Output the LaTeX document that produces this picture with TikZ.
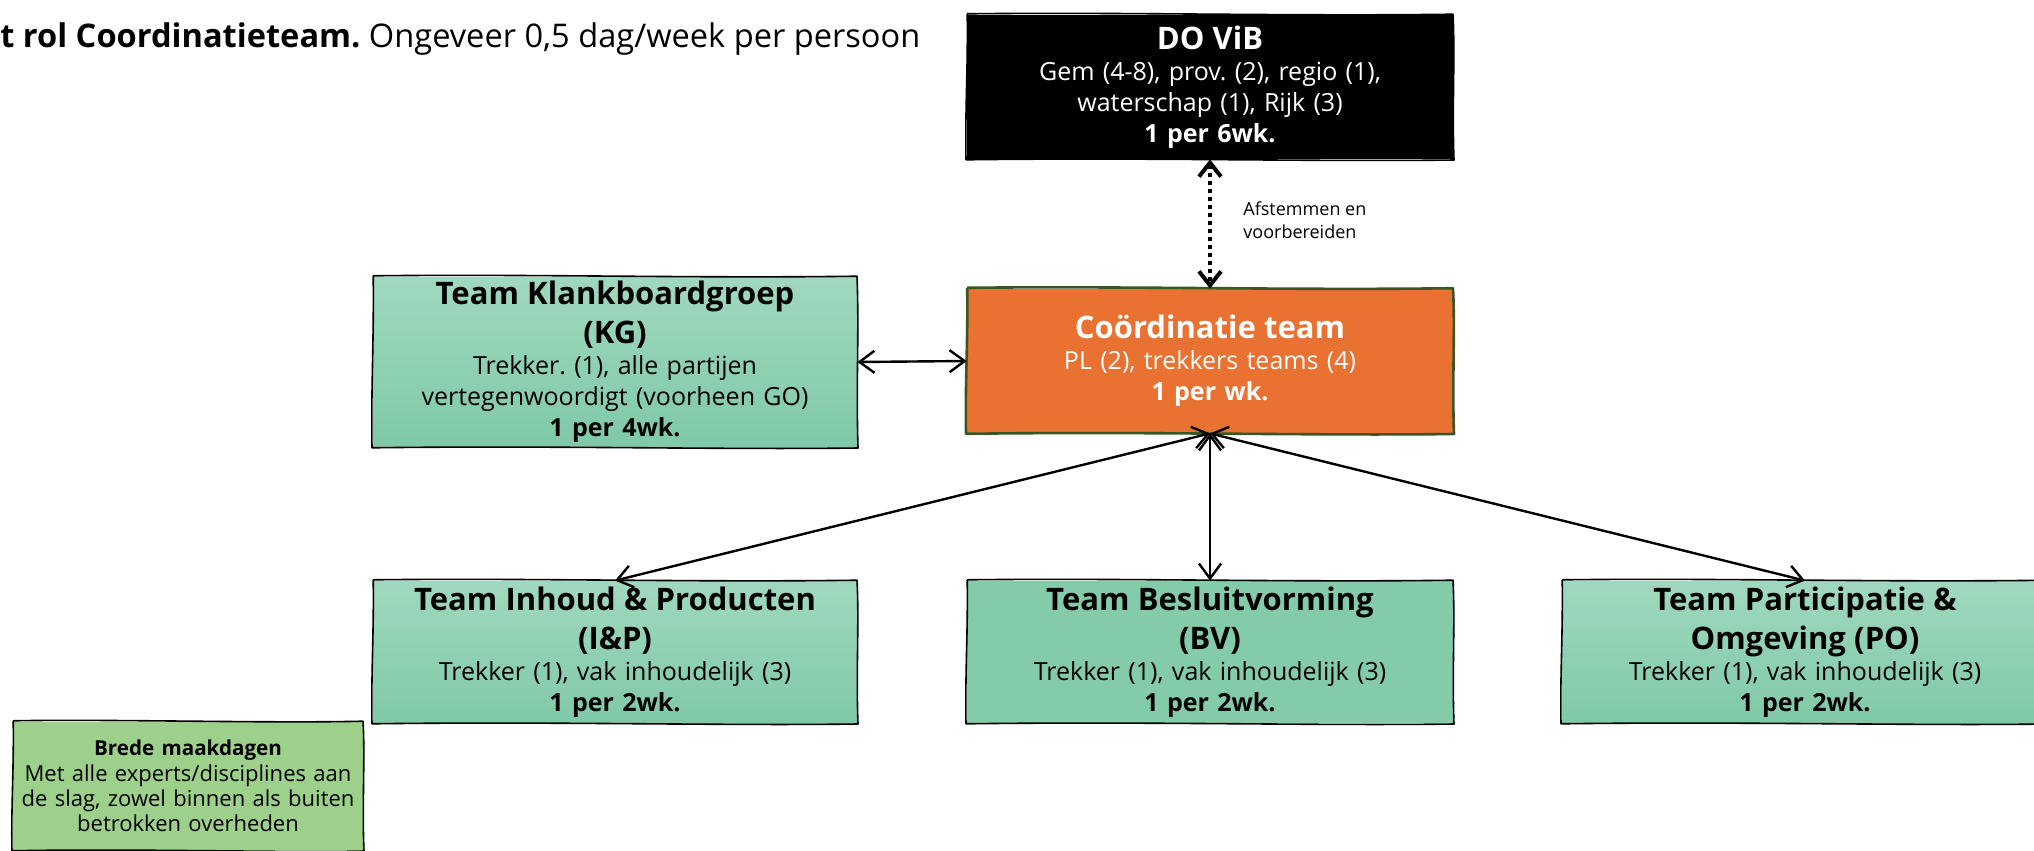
\documentclass[tikz,border=0pt]{standalone}
\usepackage{fontspec}
\setmainfont{Open Sans}
\usetikzlibrary{arrows.meta}
\definecolor{orangeC}{HTML}{E97132}
\definecolor{borderG}{HTML}{385723}
\definecolor{mintT}{HTML}{A0D8BE}
\definecolor{mintB}{HTML}{7FC9A8}
\definecolor{mintM}{HTML}{84CBAA}
\definecolor{bredeG}{HTML}{9DD08A}
\newcommand\fTitle{\fontsize{15.5pt}{19.5pt}\selectfont\bfseries}
\newcommand\fBody{\fontsize{12.5pt}{15.5pt}\selectfont}
\newcommand\fSmall{\fontsize{11pt}{12.6pt}\selectfont}
\newcommand\skbox[2][]{%
 \draw[line width=0.8pt, line join=round, #1]
  ([shift={(0.3pt,0.4pt)}]#2.north west)
   .. controls ([shift={(-40pt,1.3pt)}]#2.north) and ([shift={(40pt,-0.9pt)}]#2.north) .. ([shift={(-0.2pt,0.2pt)}]#2.north east)
   .. controls ([shift={(0.9pt,15pt)}]#2.east) and ([shift={(-0.7pt,-10pt)}]#2.east) .. ([shift={(0.3pt,-0.3pt)}]#2.south east)
   .. controls ([shift={(50pt,-1.2pt)}]#2.south) and ([shift={(-30pt,1pt)}]#2.south) .. ([shift={(-0.3pt,-0.2pt)}]#2.south west)
   .. controls ([shift={(-0.8pt,-12pt)}]#2.west) and ([shift={(0.7pt,10pt)}]#2.west) .. ([shift={(0.3pt,0.4pt)}]#2.north west);}
\tikzset{
  box/.style={draw=none, align=center, inner sep=0pt,
    minimum width=243pt, minimum height=72pt, text width=236pt, font=\fBody},
  greenbox/.style={box, top color=mintT, bottom color=mintB},
  greenflat/.style={box, fill=mintM},
  blackbox/.style={box, fill=black, text=white},
  orangebox/.style={box, fill=orangeC, text=white},
  bredebox/.style={box, fill=bredeG, minimum width=175pt, minimum height=64pt, text width=175pt, font=\fSmall},
  conn/.style={line width=1.2pt, {Straight Barb[length=7.5pt,width=11pt]}-{Straight Barb[length=7.5pt,width=11pt]}},
  dotconn/.style={line width=2pt, dash pattern=on 2.2pt off 1.8pt, {Straight Barb[length=7pt,width=11pt]}-{Straight Barb[length=7pt,width=11pt]}},
}
\begin{document}
\frenchspacing
\begin{tikzpicture}[x=0.5pt,y=-0.5pt]
\useasboundingbox (0,0) rectangle (2034,851);
\clip (0,0) rectangle (2034,851);

\node[anchor=west, inner sep=0pt, font=\fontsize{16.3pt}{19pt}\selectfont] (ttl) at (0,39)
  {\textbf{t rol Coordinatieteam.} Ongeveer 0,5 dag/week per persoon};

\node[blackbox] (do) at (1210,87)
  {{\fTitle DO ViB\par}Gem (4-8), prov. (2), regio (1),\\waterschap (1), Rijk (3)\par\textbf{1 per 6wk.}};
\skbox{do}

\node[orangebox] (co) at (1210,361)
  {{\fTitle Coördinatie team\par}PL (2), trekkers teams (4)\par\textbf{1 per wk.}};
\skbox[draw=borderG, line width=1.3pt]{co}

\node[greenbox, minimum width=242pt, minimum height=85pt] (kg) at (615,362)
  {{\fTitle Team Klankboardgroep\\(KG)\par}Trekker. (1), alle partijen\\vertegenwoordigt (voorheen GO)\par\textbf{1 per 4wk.}};
\skbox{kg}

\node[greenbox, minimum width=242pt, minimum height=71pt] (ip) at (615,652)
  {{\fTitle Team Inhoud \& Producten\\(I\&P)\par}Trekker (1), vak inhoudelijk (3)\par\textbf{1 per 2wk.}};
\skbox{ip}

\node[greenflat, minimum height=71pt] (bv) at (1210,652)
  {{\fTitle Team Besluitvorming\\(BV)\par}Trekker (1), vak inhoudelijk (3)\par\textbf{1 per 2wk.}};
\skbox{bv}

\node[greenbox, minimum height=71pt] (po) at (1805,652)
  {{\fTitle Team Participatie \&\\Omgeving (PO)\par}Trekker (1), vak inhoudelijk (3)\par\textbf{1 per 2wk.}};
\skbox{po}

\node[bredebox] (br) at (188,786)
  {{\fontsize{10.3pt}{12.6pt}\selectfont\bfseries Brede maakdagen\par}Met alle experts/disciplines aan\\de slag, zowel binnen als buiten\\betrokken overheden};
\skbox{br}

\node[anchor=west, align=left, inner sep=0pt, font=\fontsize{9pt}{11.5pt}\selectfont] (af) at (1243,220)
  {Afstemmen en\\voorbereiden};

\draw[conn] (kg.east) -- (co.west);
\draw[dotconn] (do.south) -- (co.north);
\draw[conn] (co.south) -- (ip.north);
\draw[conn] (co.south) -- (bv.north);
\draw[conn] (co.south) -- (po.north);
\end{tikzpicture}
\end{document}
